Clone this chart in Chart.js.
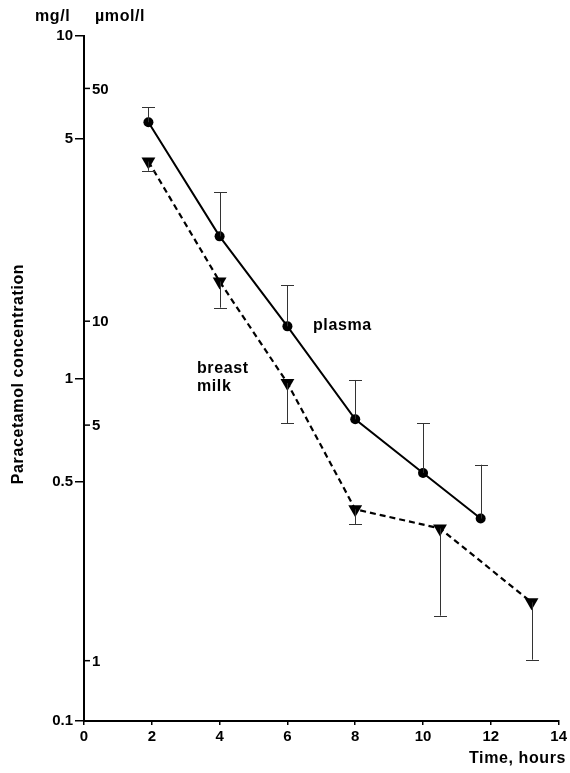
<!DOCTYPE html>
<html>
<head>
<meta charset="utf-8">
<script src="https://cdn.jsdelivr.net/npm/chart.js@4/dist/chart.umd.min.js"></script>
<style>
  html, body { margin: 0; padding: 0; background: #fff; }
  #wrap { width: 570px; height: 773px; position: relative; }
</style>
</head>
<body>
<div id="wrap"><canvas id="c" width="570" height="773"></canvas></div>
<script>
// ---- data ----
const plasmaHours = [1.9, 4, 6, 8, 10, 11.7];
const plasmaMgL   = [5.6, 2.6, 1.42, 0.76, 0.53, 0.39];
const plasmaErrHigh = [6.2, 3.5, 1.87, 0.99, 0.74, 0.56];

const milkHours = [1.9, 4, 6, 8, 10.5, 13.2];
const milkMgL   = [4.3, 1.92, 0.97, 0.415, 0.365, 0.222];
const milkErrLow = [4.04, 1.61, 0.74, 0.376, 0.203, 0.151];

const xTicks = [0, 2, 4, 6, 8, 10, 12, 14];
const yTicksMgL = [0.1, 0.5, 1, 5, 10];
const umolLabels = ['50', '10', '5', '1'];
const umolAtMgL  = [7.03, 1.47, 0.731, 0.150];

const FONT = "'Liberation Sans', Arial, sans-serif";

function pts(xs, ys) { return xs.map((x, i) => ({ x: x, y: ys[i] })); }

const overlay = {
  id: 'overlay',
  afterDatasetsDraw(chart) {
    const ctx = chart.ctx;
    const xs = chart.scales.x, ys = chart.scales.y;
    ctx.save();
    // error bars
    ctx.strokeStyle = '#333';
    ctx.lineWidth = 1;
    const bar = (x, y0, y1) => {
      const px = Math.round(xs.getPixelForValue(x));
      const p0 = ys.getPixelForValue(y0), p1 = ys.getPixelForValue(y1);
      ctx.beginPath();
      ctx.moveTo(px + 0.5, p0); ctx.lineTo(px + 0.5, p1);
      ctx.moveTo(px - 6, Math.round(p1) + 0.5); ctx.lineTo(px + 7, Math.round(p1) + 0.5);
      ctx.stroke();
    };
    plasmaHours.forEach((h, i) => bar(h, plasmaMgL[i], plasmaErrHigh[i]));
    milkHours.forEach((h, i) => bar(h, milkMgL[i], milkErrLow[i]));

    // secondary µmol/l axis ticks (inside)
    const ax = chart.chartArea.left;
    ctx.strokeStyle = '#000';
    ctx.fillStyle = '#000';
    ctx.lineWidth = 1.5;
    ctx.font = 'bold 15px ' + FONT;
    ctx.textAlign = 'left';
    ctx.textBaseline = 'middle';
    umolLabels.forEach((lab, i) => {
      const py = ys.getPixelForValue(umolAtMgL[i]);
      ctx.beginPath();
      ctx.moveTo(ax, py); ctx.lineTo(ax + 6, py);
      ctx.stroke();
      ctx.fillText(lab, ax + 8, py + 1);
    });

    // text annotations
    ctx.font = 'bold 16px ' + FONT;
    ctx.letterSpacing = '0.6px';
    ctx.textBaseline = 'alphabetic';
    ctx.textAlign = 'left';
    ctx.fillText('mg/l', 35, 21);
    ctx.fillText('\u00b5mol/l', 95, 21);
    ctx.fillText('plasma', 313, 330);
    ctx.fillText('breast', 197, 373);
    ctx.fillText('milk', 197, 391);
    ctx.textAlign = 'right';
    ctx.fillText('Time, hours', 566, 763);
    // y title
    ctx.save();
    ctx.translate(23, 374);
    ctx.rotate(-Math.PI / 2);
    ctx.textAlign = 'center';
    ctx.fillText('Paracetamol concentration', 0, 0);
    ctx.restore();
    ctx.restore();
  }
};

new Chart(document.getElementById('c'), {
  type: 'line',
  data: {
    datasets: [
      {
        label: 'plasma',
        data: pts(plasmaHours, plasmaMgL),
        borderColor: '#000',
        backgroundColor: '#000',
        borderWidth: 2,
        pointStyle: 'circle',
        pointRadius: 5,
        pointBackgroundColor: '#000',
        pointBorderWidth: 0,
        tension: 0
      },
      {
        label: 'breast milk',
        data: pts(milkHours, milkMgL),
        borderColor: '#000',
        backgroundColor: '#000',
        borderWidth: 2.2,
        borderDash: [6, 4],
        pointStyle: 'triangle',
        rotation: 180,
        pointRadius: 8,
        pointBackgroundColor: '#000',
        pointBorderWidth: 0,
        tension: 0
      }
    ]
  },
  options: {
    responsive: false,
    animation: false,
    events: [],
    layout: { padding: { left: 0, top: 36, right: 7, bottom: 0 } },
    plugins: { legend: { display: false }, tooltip: { enabled: false } },
    scales: {
      x: {
        type: 'linear',
        min: 0, max: 14,
        afterBuildTicks: s => { s.ticks = xTicks.map(v => ({ value: v })); },
        afterFit: s => { s.height = 52; },
        border: { display: true, color: '#000', width: 2 },
        grid: { display: true, drawOnChartArea: false, drawTicks: true, tickLength: 4, color: '#000', lineWidth: 1.5 },
        ticks: { color: '#000', font: { family: FONT, size: 15, weight: 'bold' }, padding: 3, maxRotation: 0 }
      },
      y: {
        type: 'logarithmic',
        min: 0.1, max: 10,
        afterBuildTicks: s => { s.ticks = yTicksMgL.map(v => ({ value: v })); },
        afterFit: s => { s.width = 84; },
        border: { display: true, color: '#000', width: 2 },
        grid: { display: true, drawOnChartArea: false, drawTicks: true, tickLength: 9, color: '#000', lineWidth: 1.5 },
        ticks: { color: '#000', font: { family: FONT, size: 15, weight: 'bold' }, padding: 2, callback: v => String(v) }
      }
    }
  },
  plugins: [overlay]
});
</script>
</body>
</html>
